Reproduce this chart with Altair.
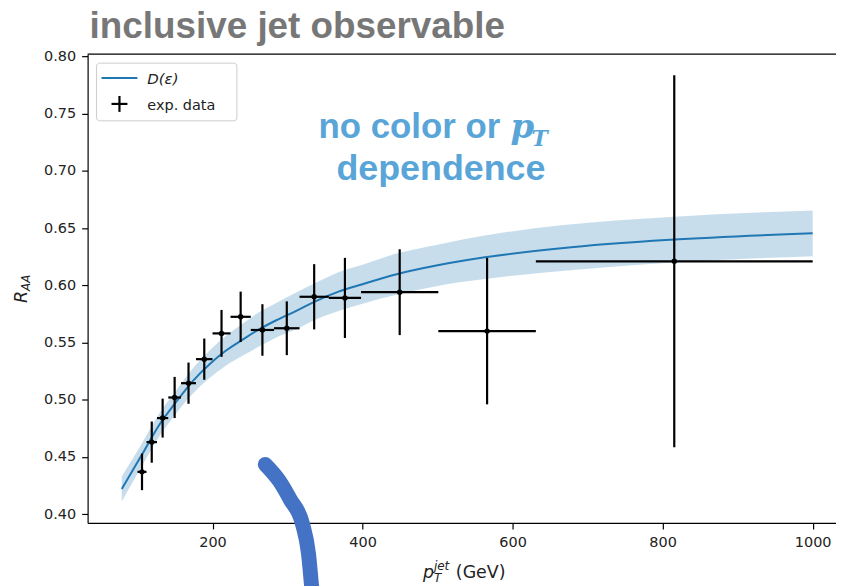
import altair as alt
import pandas as pd

# ---------------- data ----------------
bin_lo = [100, 112, 126, 141, 158, 178, 200, 224, 251, 282, 316, 355, 398, 501, 631]
bin_hi = [112, 126, 141, 158, 178, 200, 224, 251, 282, 316, 355, 398, 501, 631, 1000]
pt_center = [106, 119, 133.5, 149.5, 168, 189, 212, 237.5, 266.5, 299, 335.5, 376.5, 449.5, 566, 815.5]
raa = [0.437, 0.463, 0.484, 0.502, 0.5145, 0.5355, 0.558, 0.5725, 0.561, 0.5625, 0.590, 0.589, 0.594, 0.560, 0.621]
raa_err = [0.016, 0.018, 0.017, 0.018, 0.018, 0.018, 0.0205, 0.022, 0.0225, 0.0235, 0.0285, 0.035, 0.0375, 0.064, 0.1625]

curve_x = [79, 105, 130, 152, 174, 196, 218, 240, 262, 285, 311, 337, 368, 400, 444, 500, 563, 665, 810, 1000]
curve_y = [0.422, 0.451, 0.479, 0.4985, 0.5165, 0.531, 0.543, 0.5525, 0.5615, 0.5695, 0.5775, 0.586,
           0.5945, 0.601, 0.6095, 0.6175, 0.6245, 0.6325, 0.6398, 0.6455]
band_lo = [0.411, 0.441, 0.469, 0.4885, 0.5055, 0.519, 0.530, 0.5385, 0.5465, 0.5545, 0.5615, 0.570,
           0.5775, 0.584, 0.5915, 0.5995, 0.6055, 0.6125, 0.6198, 0.6255]
band_hi = [0.433, 0.461, 0.489, 0.5085, 0.5275, 0.543, 0.556, 0.5665, 0.5765, 0.5845, 0.5935, 0.602,
           0.6115, 0.618, 0.6275, 0.6355, 0.6435, 0.6525, 0.6598, 0.6655]

# hand-drawn annotation stroke (data coordinates)
arc_x = [270.3, 289.5, 303.5, 320.0, 328.0, 332.0]
arc_y = [0.4435, 0.4287, 0.4130, 0.3913, 0.3652, 0.3374]

x_ticks = [200, 400, 600, 800, 1000]
y_ticks = [0.40, 0.45, 0.50, 0.55, 0.60, 0.65, 0.70, 0.75, 0.80]

TITLE = "inclusive jet observable"
NOTE1 = "no color or"
NOTE2 = "dependence"
LEG_THEORY = "D(ε)"
LEG_DATA = "exp. data"

# ---------------- layout ----------------
W, H = 752, 471
x_dom = [33.5, 1031.1]
y_dom = [0.3924, 0.802]

pts = pd.DataFrame({"pt": pt_center, "lo": bin_lo, "hi": bin_hi, "r": raa, "e": raa_err})
pts["rlo"] = pts["r"] - pts["e"]
pts["rhi"] = pts["r"] + pts["e"]
curve = pd.DataFrame({"x": curve_x, "y": curve_y, "blo": band_lo, "bhi": band_hi})
arc = pd.DataFrame({"x": arc_x, "y": arc_y})
one = pd.DataFrame({"a": [0]})

xs = alt.Scale(domain=x_dom, nice=False, zero=False)
ys = alt.Scale(domain=y_dom, nice=False, zero=False)
axis_common = dict(grid=False, tickSize=6, labelFontSize=14.5, labelFont="DejaVu Sans",
                   labelColor="#222222", domainColor="#000000", tickColor="#000000",
                   domainWidth=1.2, tickWidth=1.2, title=None)
xaxis = alt.Axis(values=x_ticks, format="d", labelPadding=7, **axis_common)
yaxis = alt.Axis(values=y_ticks, format=".2f", labelPadding=6, **axis_common)


def X(f):
    return alt.X(f, scale=xs, axis=xaxis, title=None)


def Y(f):
    return alt.Y(f, scale=ys, axis=yaxis, title=None)


band = alt.Chart(curve).mark_area(color="#1f77b4", opacity=0.25, interpolate="monotone").encode(
    x=X("x:Q"), y=Y("blo:Q"), y2="bhi:Q")
line = alt.Chart(curve).mark_line(color="#1f77b4", strokeWidth=2, interpolate="monotone").encode(
    x=X("x:Q"), y=Y("y:Q"))
vbars = alt.Chart(pts).mark_rule(color="black", strokeWidth=2.2).encode(x=X("pt:Q"), y=Y("rlo:Q"), y2="rhi:Q")
hbars = alt.Chart(pts).mark_rule(color="black", strokeWidth=2.2).encode(x=X("lo:Q"), x2="hi:Q", y=Y("r:Q"))
dots = alt.Chart(pts).mark_circle(color="black", size=30, opacity=1).encode(x=X("pt:Q"), y=Y("r:Q"))
arc_line = alt.Chart(arc).mark_line(color="#4472C4", strokeWidth=15, strokeCap="round",
                                    interpolate="monotone").encode(x=X("x:Q"), y=Y("y:Q"))


def txt(s, x, y, size, color="#222222", font="DejaVu Sans", weight="normal", style="normal",
        align="left", angle=0):
    return alt.Chart(one).mark_text(text=s, fontSize=size, color=color, font=font, fontWeight=weight,
                                    fontStyle=style, align=align, baseline="alphabetic", angle=angle).encode(
        x=alt.value(x), y=alt.value(y))


top_spine = alt.Chart(one).mark_rule(color="black", strokeWidth=1.2).encode(
    x=alt.value(0), x2=alt.value(W + 10), y=alt.value(0))

# legend
leg_box = alt.Chart(one).mark_rect(fill="white", fillOpacity=0.8, stroke="#cccccc", strokeWidth=1,
                                   cornerRadius=3).encode(
    x=alt.value(9), x2=alt.value(150), y=alt.value(9), y2=alt.value(67))
leg_line = alt.Chart(one).mark_rule(color="#1f77b4", strokeWidth=2).encode(
    x=alt.value(14), x2=alt.value(50), y=alt.value(24))
leg_h = alt.Chart(one).mark_rule(color="black", strokeWidth=2.2).encode(
    x=alt.value(24), x2=alt.value(40), y=alt.value(50))
leg_v = alt.Chart(one).mark_rule(color="black", strokeWidth=2.2).encode(
    x=alt.value(32), y=alt.value(42), y2=alt.value(58))
leg_t1 = txt(LEG_THEORY, 60, 30, 15, style="italic")
leg_t2 = txt(LEG_DATA, 60, 56, 14.5)

# titles / annotations
title = txt(TITLE, 2, -16, 37, color="#777777", font="Liberation Sans", weight="bold")
blue = "#5AA5D8"
note1 = txt(NOTE1, 232, 84, 35, color=blue, font="Liberation Sans", weight="bold")
note_p = txt("p", 425, 84, 34, color=blue, font="DejaVu Serif", weight="bold", style="italic")
note_T = txt("T", 446, 92, 22, color=blue, font="DejaVu Serif", weight="bold", style="italic")
note2 = txt(NOTE2, 355, 126, 36, color=blue, font="Liberation Sans", weight="bold", align="center")

# axis titles built from pieces (sub/superscripts)
xt_p = txt("p", 337, 526, 17.5, style="italic")
xt_T = txt("T", 348, 530, 12, style="italic")
xt_jet = txt("jet", 348, 518, 12, style="italic")
xt_gev = txt("(GeV)", 370, 526, 17.5)
yt_R = txt("R", -61, 250, 17.5, style="italic", angle=270)
yt_AA = txt("AA", -57.5, 238, 12, style="italic", angle=270)

chart = alt.layer(
    band, line, hbars, vbars, dots, top_spine,
    leg_box, leg_line, leg_h, leg_v, leg_t1, leg_t2,
    title, note1, note_p, note_T, note2,
    xt_p, xt_T, xt_jet, xt_gev, yt_R, yt_AA,
    arc_line,
).properties(
    width=W, height=H,
    autosize=alt.AutoSizeParams(type="none"),
    padding={"left": 80, "top": 45, "right": 0, "bottom": 62},
    background="white",
).configure_view(strokeWidth=0)

chart.save("out.html", embed_options={"renderer": "svg", "actions": False})
